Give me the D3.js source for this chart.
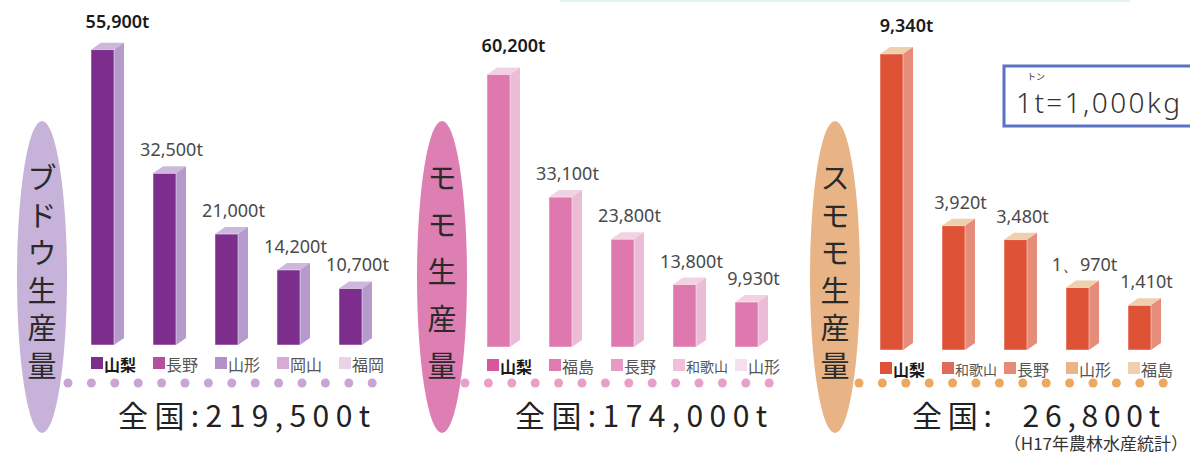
<!DOCTYPE html>
<html>
<head>
  <meta charset="utf-8">
  <title>果物生産量</title>
  <script src="https://d3js.org/d3.v7.min.js"></script>
  <style>
    body, html { margin: 0; padding: 0; background: #fff; overflow: hidden; }
    svg { display: block; background: #fff; }
  </style>
</head>
<body>
  <svg id="chart" width="1190" height="457"></svg>
  <script>
    // data
    var grapeStates = ["山梨", "長野", "山形", "岡山", "福岡"];
    var grapeValues = [55900, 32500, 21000, 14200, 10700];
    var grapeLabels = ["55,900t", "32,500t", "21,000t", "14,200t", "10,700t"];

    var peachStates = ["山梨", "福島", "長野", "和歌山", "山形"];
    var peachValues = [60200, 33100, 23800, 13800, 9930];
    var peachLabels = ["60,200t", "33,100t", "23,800t", "13,800t", "9,930t"];

    var plumStates = ["山梨", "和歌山", "長野", "山形", "福島"];
    var plumValues = [9340, 3920, 3480, 1970, 1410];
    var plumLabels = ["9,340t", "3,920t", "3,480t", "1、970t", "1,410t"];

    var titles = ["ブドウ生産量", "モモ生産量", "スモモ生産量"];
    var totals = ["全国:219,500t", "全国:174,000t", "全国:  26,800t"];

    // layout + colours for each panel
    var panels = [
      { states: grapeStates, values: grapeValues, labels: grapeLabels, title: titles[0], total: totals[0],
        x0: 91, bottom: 345, dmax: 60000, ellX: 42, dotX: 68, totalX: 118, totalW: 252,
        front: "#7d2e8c", side: "#b69acb", top: "#cdb8dc", ell: "#c7b3d9", dot: "#c9a5d6",
        legend: ["#7d2e8c", "#b5509e", "#b290c9", "#d6acd6", "#e8d3e8"] },
      { states: peachStates, values: peachValues, labels: peachLabels, title: titles[1], total: totals[1],
        x0: 487, bottom: 347, dmax: 70000, ellX: 442, dotX: 465, totalX: 515, totalW: 252,
        front: "#df78ae", side: "#ecbcd6", top: "#f2d2e2", ell: "#dd7fb2", dot: "#e8a0c8",
        legend: ["#d9559c", "#e07bb0", "#e69ac4", "#efc0d7", "#f4dfea"] },
      { states: plumStates, values: plumValues, labels: plumLabels, title: titles[2], total: totals[2],
        x0: 880, bottom: 350, dmax: 10000, ellX: 835, dotX: 859, totalX: 912, totalW: 248,
        front: "#de5236", side: "#e58c7a", top: "#f0cfae", ell: "#e8b486", dot: "#eba85e",
        legend: ["#de5236", "#df6a5a", "#e88878", "#eab585", "#efcfae"] }
    ];

    var svg = d3.select("#chart");
    var jp = "'Noto Sans CJK JP', 'Noto Sans', sans-serif";
    var barW = 23, sideW = 10, depth = 7;

    // faint teal rule at the very top
    svg.append("line")
      .attr("x1", 560).attr("x2", 1130).attr("y1", 1).attr("y2", 1)
      .attr("stroke", "#e0f3f2").attr("stroke-width", 2);

    panels.forEach(function(p) {
      var g = svg.append("g");

      var xScale = d3.scaleBand()
        .domain(p.states)
        .range([p.x0, p.x0 + 4 * 62 + barW])
        .paddingInner(1 - barW / 62)
        .paddingOuter(0);

      var yScale = d3.scaleLinear()
        .domain([0, p.dmax])
        .range([p.bottom, p.bottom - 317]);

      // ellipse with vertical title
      g.append("ellipse")
        .attr("cx", p.ellX).attr("cy", 277)
        .attr("rx", 25).attr("ry", 156)
        .attr("fill", p.ell);

      var chars = p.title.split("");
      var cy = d3.scalePoint().domain(d3.range(chars.length)).range([176, 364]);
      g.selectAll(".tchar")
        .data(chars)
        .enter().append("text")
        .attr("x", p.ellX)
        .attr("y", function(d, i) { return cy(i); })
        .attr("text-anchor", "middle")
        .attr("dominant-baseline", "central")
        .style("font-family", jp)
        .style("font-size", "29px")
        .attr("fill", "#2a2a2a")
        .text(function(d) { return d; });

      var rows = p.states.map(function(s, i) {
        return { state: s, value: p.values[i], label: p.labels[i], i: i };
      });

      // 3D bars: top face, side face, front face
      var bars = g.selectAll(".bar").data(rows).enter().append("g");

      bars.append("polygon")
        .attr("fill", p.top)
        .attr("points", function(d) {
          var x = xScale(d.state), y = yScale(d.value);
          return [[x, y], [x + sideW, y - depth], [x + barW + sideW, y - depth], [x + barW, y]].join(" ");
        });

      bars.append("polygon")
        .attr("fill", p.side)
        .attr("points", function(d) {
          var x = xScale(d.state) + barW, y = yScale(d.value);
          return [[x, y], [x + sideW, y - depth], [x + sideW, p.bottom - depth], [x, p.bottom]].join(" ");
        });

      bars.append("rect")
        .attr("x", function(d) { return xScale(d.state); })
        .attr("y", function(d) { return yScale(d.value); })
        .attr("width", barW)
        .attr("height", function(d) { return p.bottom - yScale(d.value); })
        .attr("fill", p.front)
        .attr("stroke", "#fff")
        .attr("stroke-opacity", 0.6)
        .attr("stroke-width", 0.8);

      // value labels
      g.selectAll(".val").data(rows).enter().append("text")
        .attr("x", function(d) { return xScale(d.state) + (barW + sideW) / 2 + (d.i === 0 ? 10 : 2); })
        .attr("y", function(d) { return yScale(d.value) - (d.i === 0 ? 22 : 17); })
        .attr("text-anchor", "middle")
        .style("font-family", "'Noto Sans', sans-serif")
        .style("font-size", "18px")
        .style("font-weight", function(d) { return d.i === 0 ? "600" : "normal"; })
        .attr("fill", function(d) { return d.i === 0 ? "#1a1a1a" : "#4a4a4a"; })
        .text(function(d) { return d.label; });

      // legend under the bars
      var leg = g.selectAll(".leg").data(rows).enter().append("g")
        .attr("transform", function(d) { return "translate(" + xScale(d.state) + "," + (p.bottom + 18) + ")"; });
      leg.append("rect")
        .attr("x", 0).attr("y", -6).attr("width", 12).attr("height", 12)
        .attr("fill", function(d) { return p.legend[d.i]; });
      leg.append("text")
        .attr("x", 13).attr("y", 1)
        .attr("dominant-baseline", "central")
        .style("font-family", jp)
        .style("font-size", function(d) { return d.state.length > 2 ? "14px" : "16px"; })
        .style("font-weight", function(d) { return d.i === 0 ? "bold" : "normal"; })
        .attr("fill", function(d) { return d.i === 0 ? "#1a1a1a" : "#555"; })
        .text(function(d) { return d.state; });

      // dotted rule
      g.selectAll(".dot").data(d3.range(14)).enter().append("circle")
        .attr("cx", function(d) { return p.dotX + d * 23.4; })
        .attr("cy", 383)
        .attr("r", 4.5)
        .attr("fill", p.dot);

      // national total
      g.append("text")
        .attr("x", p.totalX).attr("y", 427)
        .attr("textLength", p.totalW)
        .attr("lengthAdjust", "spacing")
        .style("font-family", jp)
        .style("font-size", "30px")
        .style("font-weight", "400")
        .style("white-space", "pre")
        .attr("fill", "#222")
        .text(p.total);
    });

    // unit box
    svg.append("rect")
      .attr("x", 1004).attr("y", 66).attr("width", 200).attr("height", 60)
      .attr("fill", "#fff").attr("stroke", "#5b72c2").attr("stroke-width", 3);
    svg.append("text")
      .attr("x", 1016).attr("y", 113)
      .attr("textLength", 164).attr("lengthAdjust", "spacing")
      .style("font-family", "'Noto Sans', sans-serif")
      .style("font-size", "28px")
      .style("font-weight", "300")
      .attr("fill", "#333")
      .text("1t=1,000kg");
    svg.append("text")
      .attr("x", 1036).attr("y", 80)
      .attr("text-anchor", "middle")
      .style("font-family", jp)
      .style("font-size", "9px")
      .attr("fill", "#333")
      .text("トン");

    // source note
    svg.append("text")
      .attr("x", 1188).attr("y", 450)
      .attr("text-anchor", "end")
      .style("font-family", jp)
      .style("font-size", "17px")
      .attr("fill", "#333")
      .text("（H17年農林水産統計）");
  </script>
</body>
</html>
